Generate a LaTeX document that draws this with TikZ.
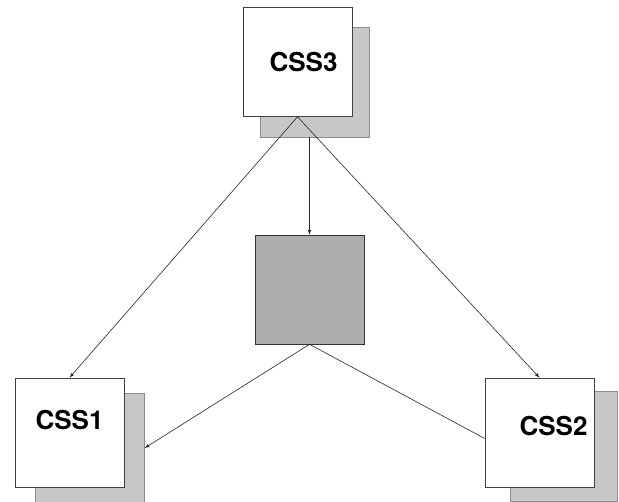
\documentclass[tikz,border=0pt]{standalone}
\usepackage{fontspec}
\setmainfont{TeX Gyre Heros}
\tikzset{
  frontbox/.style={draw=black!75, fill=white, line width=0.6pt, minimum width=109pt, minimum height=109pt, inner sep=0pt},
  shadowbox/.style={draw=black!45, fill=black!22, line width=0.5pt, minimum width=109pt, minimum height=110pt, inner sep=0pt},
  midbox/.style={draw=black!80, fill=black!32, line width=0.6pt, minimum width=109pt, minimum height=109pt, inner sep=0pt},
  csslabel/.style={font=\fontsize{26}{30}\selectfont\bfseries}
}
\begin{document}
\begin{tikzpicture}[x=1pt, y=-1pt, >=latex]
\useasboundingbox (0,0) rectangle (619,502);
% shadows behind the three sites
\node[shadowbox] (sh3) at (314.5,82) {};
\node[shadowbox] (sh1) at (90,448) {};
\node[shadowbox, minimum width=107pt] (sh2) at (563.5,446.5) {};
% the sites
\node[frontbox] (css3) at (297.5,62) {};
\node[frontbox] (css1) at (69.5,432.5) {};
\node[frontbox] (css2) at (539.5,432.5) {};
\node[midbox] (mid) at (309.5,289.5) {};
\node[csslabel] (l3) at ([xshift=6pt]css3.center) {CSS3};
\node[csslabel] (l1) at ([yshift=12pt]css1.center) {CSS1};
\node[csslabel] (l2) at ([xshift=14pt,yshift=6pt]css2.center) {CSS2};
% connectors
\draw[->, black!85, line width=0.6pt] (css3.south) -- (css1.north);
\draw[->, black!85, line width=0.6pt] (css3.south) -- (css2.north);
\draw[->, black!85, line width=0.6pt] (mid.north |- sh3.south) -- (mid.north);
\draw[->, black!85, line width=0.6pt] (mid.south) -- (sh1.east);
\draw[black!85, line width=0.6pt] (mid.south) -- ([yshift=-6pt]css2.west);
\end{tikzpicture}
\end{document}
